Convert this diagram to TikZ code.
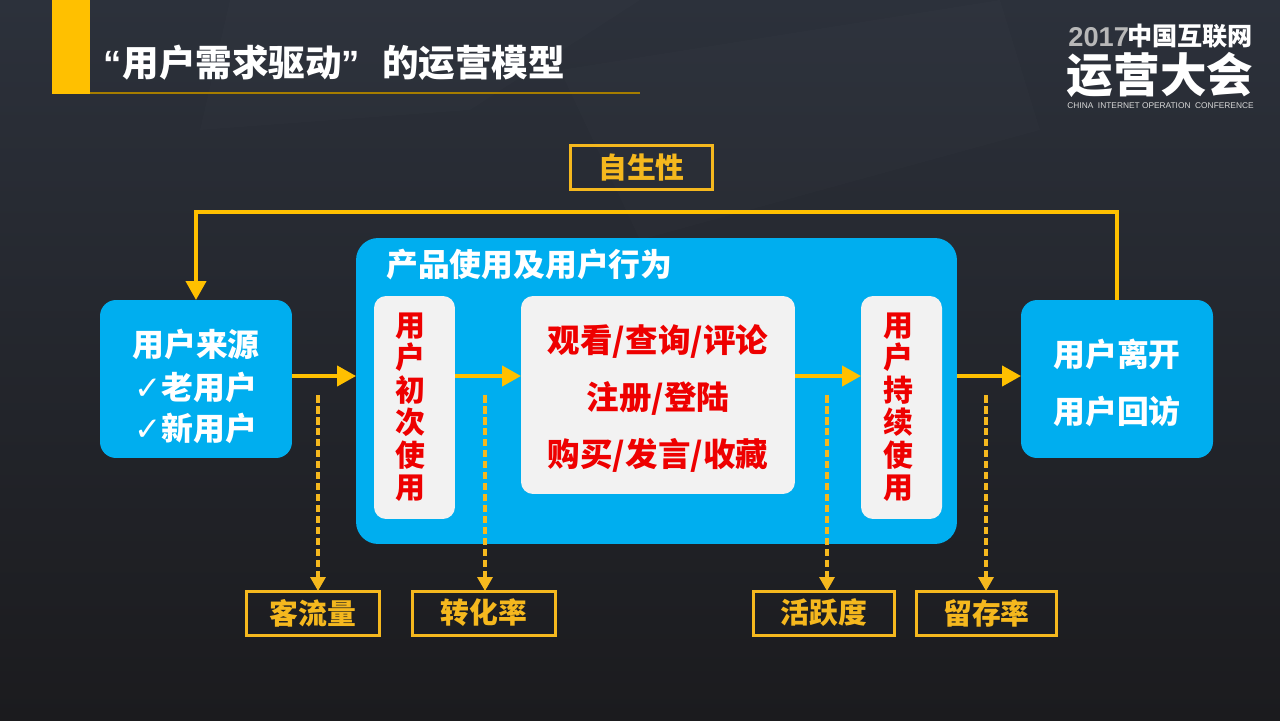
\documentclass[tikz,border=0pt]{standalone}
\usepackage{fontspec}
\setmainfont{Liberation Sans}
\newfontfamily\cjk{Noto Sans CJK SC}
\newfontfamily\symb{DejaVu Sans}
\usetikzlibrary{arrows.meta}
\definecolor{panelblue}{HTML}{00AEEF}
\definecolor{boxgray}{HTML}{F2F2F2}
\definecolor{flowyellow}{HTML}{FFC000}
\definecolor{metricyellow}{HTML}{F5B81E}
\definecolor{wordred}{HTML}{EE0000}
\definecolor{bgtop}{HTML}{2C313B}
\definecolor{bgbottom}{HTML}{1B1B1E}
\tikzset{
    bluebox/.style={fill=panelblue,rounded corners=.32cm,inner sep=0,outer sep=0,minimum width=3.84cm,minimum height=3.16cm},
    graybox/.style={fill=boxgray,rounded corners=.24cm,inner sep=0,outer sep=0},
    metricbox/.style={draw=metricyellow,line width=.06cm,inner sep=0,outer sep=0,minimum height=.88cm,text=metricyellow,font=\fontsize{16.4}{20}\selectfont\cjk\bfseries},
    whiteword/.style={text=white,align=center,inner sep=0,font=\fontsize{18.1}{23}\selectfont\cjk\bfseries},
    redword/.style={text=wordred,align=center,inner sep=0,font=\fontsize{17}{18.5}\selectfont\cjk\bfseries},
    flowline/.style={draw=flowyellow,line width=.08cm,-{Triangle[length=.38cm,width=.4cm]}},
    metricline/.style={draw=metricyellow,line width=.065cm,dash pattern=on .15cm off .07cm,-{Triangle[length=.28cm,width=.3cm]}},
}
\begin{document}
\begin{tikzpicture}[x=.02cm,y=-.02cm]
    \useasboundingbox(0,0)rectangle(1280,720);
    \fill[top color=bgtop,bottom color=bgbottom](0,0)rectangle(1280,720);
    \fill[white,opacity=.012](230,0)--(640,0)--(470,110)--(200,130)--cycle;
    \fill[white,opacity=.012](560,70)--(1000,0)--(1040,130)--(640,240)--cycle;
    \fill[flowyellow](52,0)rectangle(90,94);
    \draw[color=flowyellow!65!black,line width=.03cm](90,93)--(640,93);
    \node[anchor=west,inner sep=0,text=white,font=\fontsize{20.8}{25}\selectfont\cjk\bfseries](maintitle)at(103,63){{\rmfamily\bfseries “}\kern.6pt用户需求驱动{\rmfamily\bfseries ”}\kern12.6pt 的运营模型};
    \node[anchor=west,inner sep=0,text=white!72!black,font=\fontsize{15.5}{18}\selectfont\bfseries](logoyear)at(1068,37){2017};
    \node[anchor=east,inner sep=0,text=white,font=\fontsize{14.3}{18}\selectfont\cjk\bfseries](logotop)at(1253,36){中国互联网};
    \node[inner sep=0,text=white,font=\fontsize{26.5}{30}\selectfont\cjk\bfseries](logomain)at(1160,75){运营大会};
    \node[inner sep=0,text=white!85!black,font=\fontsize{4.75}{5}\selectfont](logosub)at(1160.5,106){CHINA\ \ INTERNET OPERATION\ \ CONFERENCE};
    \node[bluebox,rounded corners=.44cm,minimum width=12.02cm,minimum height=6.12cm](panel)at(656.5,391){};
    \node[whiteword,anchor=west](paneltitle)at(386,265){产品使用及用户行为};
    \node[bluebox](source)at(196,379){};
    \node[whiteword](sourcetext)at(196,386.5){用户来源\\[1.5pt]{\symb\fontsize{18.5}{23}\selectfont ✓}老用户\\{\symb\fontsize{18.5}{23}\selectfont ✓}新用户};
    \node[bluebox](leave)at(1117,379){};
    \node[whiteword,font=\fontsize{18.1}{32.5}\selectfont\cjk\bfseries](leavetext)at(1117,383){用户离开\\用户回访};
    \node[graybox,minimum width=1.62cm,minimum height=4.46cm](first)at(414.5,407.5){};
    \node[redword](firsttext)at(410.5,407){用\\户\\初\\次\\使\\用};
    \node[graybox,minimum width=5.48cm,minimum height=3.96cm](actions)at(658,395){};
    \node[redword,font=\fontsize{18.5}{32.5}\selectfont\cjk\bfseries](actionstext)at(658,398.5){观看/查询/评论\\注册/登陆\\购买/发言/收藏};
    \node[graybox,minimum width=1.62cm,minimum height=4.46cm](keep)at(901.5,407.5){};
    \node[redword](keeptext)at(898,407){用\\户\\持\\续\\使\\用};
    \node[metricbox,minimum width=2.84cm](selfgrow)at(641.5,167.5){自生性};
    \node[metricbox,minimum width=2.66cm](traffic)at(313,613){客流量};
    \node[metricbox,minimum width=2.86cm](convert)at(484,613){转化率};
    \node[metricbox,minimum width=2.82cm](active)at(824,613){活跃度};
    \node[metricbox,minimum width=2.80cm](retain)at(986.5,613){留存率};
    \coordinate(looptop)at(0,212);
    \coordinate(flowrow)at(0,376);
    \draw[flowline](leave.north)--(leave.north|-looptop)--(source.north|-looptop)--(source.north);
    \draw[flowline](source.east|-flowrow)--(panel.west|-flowrow);
    \draw[flowline](first.east|-flowrow)--(actions.west|-flowrow);
    \draw[flowline](actions.east|-flowrow)--(keep.west|-flowrow);
    \draw[flowline](panel.east|-flowrow)--(leave.west|-flowrow);
    \foreach \u/\v in {318/traffic,485/convert,827/active,986/retain}
    {
        \coordinate(\v start)at(\u,395);
        \draw[metricline](\v start)--(\v start|-\v.north);
    }
\end{tikzpicture}
\end{document}
